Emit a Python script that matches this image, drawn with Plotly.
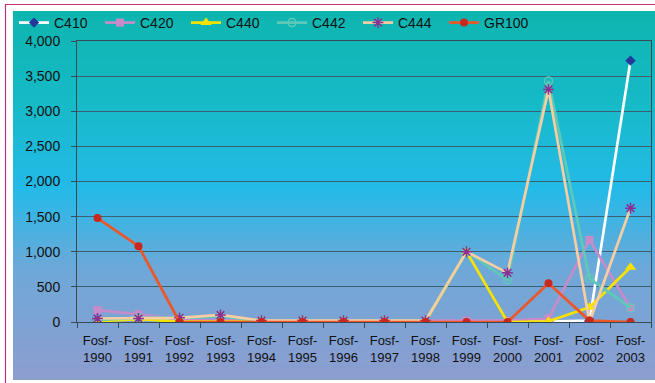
import plotly.graph_objects as go

# Category labels (two-line tick text)
years = [str(y) for y in range(1990, 2004)]
categories = ["Fosf-<br>" + y for y in years]

# Series values
c410 = [30, 60, 30, 10, 10, 10, 10, 10, 5, 5, 5, 5, 20, 3720]
c420 = [170, 110, 30, 20, 20, 20, 20, 20, 20, 20, 20, 50, 1170, 200]
c440 = [10, 40, 5, 5, 5, 5, 5, 5, 5, 1000, 0, 10, 210, 780]
c442 = [30, 60, 60, 80, 20, 20, 20, 20, 20, 1000, 600, 3430, 620, 200]
c444 = [50, 50, 60, 100, 20, 20, 20, 20, 20, 1000, 700, 3310, 0, 1620]
gr100 = [1480, 1080, 0, 0, 0, 0, 0, 0, 0, 0, 0, 550, 20, 0]

y_ticks = [0, 500, 1000, 1500, 2000, 2500, 3000, 3500, 4000]

W, H = 655, 383
FONT = "Liberation Sans, Arial, sans-serif"

series = [
    ("C410", c410, "#ffffff", dict(symbol="diamond", size=8, color="#22399a")),
    ("C420", c420, "#c78bc9", dict(symbol="square", size=8, color="#c78bc9")),
    ("C440", c440, "#f7e200", dict(symbol="triangle-up", size=10, color="#f7e200")),
    ("C442", c442, "#5fc9b9", dict(symbol="circle-open", size=8, color="#5fc9b9", line=dict(width=1.5))),
    ("C444", c444, "#f8cda2", dict(symbol="asterisk-open", size=9, color="#8a2e93", line=dict(width=1.5, color="#8a2e93"))),
    ("GR100", gr100, "#ee5527", dict(symbol="circle", size=8, color="#c9281c")),
]

fig = go.Figure()
for name, vals, color, marker in series:
    fig.add_trace(go.Scatter(
        x=categories, y=vals, name=name, mode="lines+markers",
        line=dict(color=color, width=2.7), marker=marker,
    ))


def lerp(c1, c2, t):
    return tuple(round(a + (b - a) * t) for a, b in zip(c1, c2))


# Vertical background gradient: teal -> sky blue -> lavender
stops = [(0.0, (14, 181, 175)), (0.25, (22, 186, 200)), (0.48, (36, 186, 232)),
         (0.70, (110, 168, 216)), (1.0, (141, 157, 207))]


def grad(t):
    for (t0, c0), (t1, c1) in zip(stops, stops[1:]):
        if t <= t1:
            return lerp(c0, c1, (t - t0) / (t1 - t0))
    return stops[-1][1]


shapes = []
top, bottom, left, right = 11, 380, 13, 655
step = 2
for y in range(top, bottom, step):
    t = (y - top) / (bottom - top)
    r, g, b = grad(t)
    shapes.append(dict(
        type="rect", xref="paper", yref="paper", layer="below",
        x0=left / W, x1=right / W, y0=1 - min(y + step, bottom) / H, y1=1 - y / H,
        fillcolor=f"rgb({r},{g},{b})", line=dict(width=0),
    ))
# Outer frame
shapes.append(dict(type="rect", xref="paper", yref="paper", layer="below",
                   x0=5.5 / W, x1=1.05, y0=-0.05, y1=1 - 4.5 / H,
                   line=dict(color="#c2307a", width=1.2), fillcolor="rgba(0,0,0,0)"))

x0_px, x1_px = 77, 651
y0_px, y1_px = 322, 41

fig.update_layout(
    width=W, height=H,
    margin=dict(l=0, r=0, t=0, b=0, autoexpand=False),
    paper_bgcolor="white",
    plot_bgcolor="rgba(0,0,0,0)",
    shapes=shapes,
    font=dict(family=FONT, size=13, color="#111111"),
    showlegend=True,
    legend=dict(
        orientation="h", x=14 / W, y=1 - 23 / H, xanchor="left", yanchor="middle",
        bgcolor="rgba(0,0,0,0)", font=dict(size=14, color="#111111"),
        entrywidth=41, entrywidthmode="pixels", itemwidth=30,
        traceorder="normal",
    ),
    xaxis=dict(
        domain=[x0_px / W, x1_px / W],
        range=[-0.5, 13.5],
        type="category",
        tickson="boundaries", ticks="outside", ticklen=5, tickcolor="#3a4a55",
        showline=True, linecolor="#3a4a55", linewidth=1, mirror=True,
        showgrid=False, tickfont=dict(size=13), tickangle=0,
        ticklabelstandoff=6,
    ),
    yaxis=dict(
        domain=[1 - y0_px / H, 1 - y1_px / H],
        range=[0, 4000],
        tickvals=y_ticks, ticktext=[f"{v:,}" for v in y_ticks],
        ticks="outside", ticklen=5, tickcolor="#3a4a55",
        showline=True, linecolor="#3a4a55", linewidth=1, mirror=True,
        showgrid=True, gridcolor="#3d6070", gridwidth=1,
        zeroline=False, tickfont=dict(size=14),
        ticklabelstandoff=8,
    ),
)

fig.write_html("out.html")
